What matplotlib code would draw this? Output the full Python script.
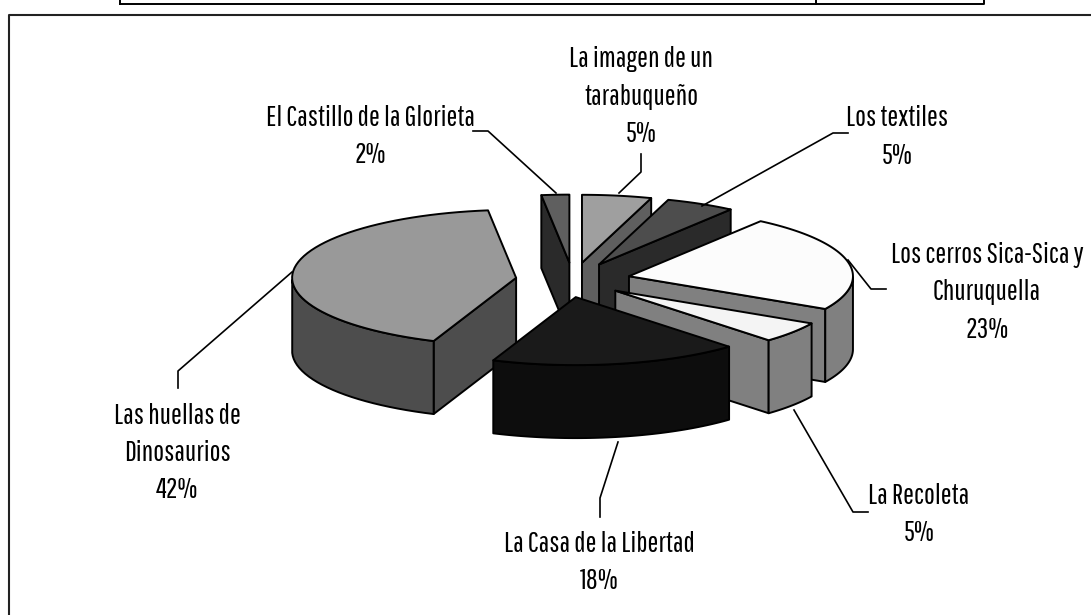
#!/usr/bin/env python3
# -*- coding: utf-8 -*-
import numpy as np
import matplotlib
matplotlib.use('Agg')
import matplotlib.pyplot as plt
from matplotlib.patches import Polygon

plt.rcParams['font.family'] = ['Pathway Gothic One', 'Archivo Narrow', 'Liberation Sans']

""" Data """

names = ['La imagen de un\ntarabuqueño', 'Los textiles', 'Los cerros Sica-Sica y\nChuruquella',
         'La Recoleta', 'La Casa de la Libertad', 'Las huellas de\nDinosaurios',
         'El Castillo de la Glorieta']
shares = [5, 5, 23, 5, 18, 42, 2]
topGreys = ['#9f9f9f', '#4d4d4d', '#fcfcfc', '#f4f4f4', '#1a1a1a', '#999999', '#5f5f5f']
sideGreys = ['#5f5f5f', '#2a2a2a', '#808080', '#808080', '#0d0d0d', '#4d4d4d', '#2a2a2a']

""" Layout, in pixels of the picture """

centreX, centreY = 573, 280
radX, radY = 224, 68
depth = 73
explode = 0.256
nudgeX = [0, 0, 0, -3, -8, 0, 0]
drawOrder = [6, 0, 1, 2, 5, 3, 4]
labelX = [641, 897, 987, 919, 599, 177, 370]
labelY = [57, 116, 252, 493, 541, 413, 115]
lineGap = 37.5
leaders = [[(641, 154), (641, 172), (619, 193)],
           [(848, 133), (833, 133), (702, 206)],
           [(886, 289), (871, 289), (848, 260)],
           [(868, 512), (853, 512), (794, 410)],
           [(600, 517), (600, 498), (618, 442)],
           [(178, 388), (178, 371), (292, 272)],
           [(473, 131), (488, 131), (556, 193)]]
edgeWidth = 1.4
fontSize = 20.8


def rim(a0, a1, x0, y0, num=60):
    th = np.radians(np.linspace(a0, a1, num))
    return np.column_stack([x0 + radX*np.cos(th), y0 - radY*np.sin(th)])


def wall(ax, pts, colour):
    lower = pts[::-1] + [0, depth]
    ax.add_patch(Polygon(np.vstack([pts, lower]), closed=True, facecolor=colour,
                         edgecolor='k', linewidth=edgeWidth, joinstyle='round'))


fig = plt.figure(figsize=(10.91, 6.15), dpi=100)
ax = fig.add_axes([0, 0, 1, 1])
ax.set_xlim(0, 1091)
ax.set_ylim(615, 0)
ax.axis('off')

# frame of the chart, and the bottom of the table above it
ax.plot([9, 9, 1091], [615, 15, 15], color='#222222', linewidth=1.5)
ax.plot([120, 984, 984], [3.5, 3.5, 0], color='k', linewidth=1.4)
ax.plot([120, 120], [3.5, 0], color='k', linewidth=1.4)
ax.plot([816, 816], [3.5, 0], color='k', linewidth=1.4)

ends = 90 - 3.6*np.cumsum(shares)
starts = np.concatenate([[90], ends[:-1]])

for ind in drawOrder:
    a0, a1 = starts[ind], ends[ind]
    mid = np.radians((a0 + a1)/2)
    x0 = centreX + explode*radX*np.cos(mid) + nudgeX[ind]
    y0 = centreY - explode*radY*np.sin(mid)
    apex = np.array([[x0, y0]])
    arc = rim(a0, a1, x0, y0)

    # walls that face the viewer: the radial edges first, then the rim
    if np.sin(np.radians(a0 + 90)) < -1e-6:
        wall(ax, np.vstack([apex, arc[:1]]), sideGreys[ind])
    if np.sin(np.radians(a1 - 90)) < -1e-6:
        wall(ax, np.vstack([apex, arc[-1:]]), sideGreys[ind])
    th = np.linspace(a0, a1, 60)
    front = np.sin(np.radians(th)) <= 0
    if front.any():
        wall(ax, arc[front], sideGreys[ind])

    ax.add_patch(Polygon(np.vstack([apex, arc]), closed=True, facecolor=topGreys[ind],
                         edgecolor='k', linewidth=edgeWidth, joinstyle='round'))

for ind in range(len(names)):
    pts = np.array(leaders[ind])
    ax.plot(pts[:, 0], pts[:, 1], color='k', linewidth=1.2)
    lines = names[ind].split('\n') + [str(shares[ind]) + '%']
    for num, line in enumerate(lines):
        ax.text(labelX[ind], labelY[ind] + num*lineGap, line, ha='center', va='center_baseline',
                fontsize=fontSize, color='k')

fig.savefig('out.png', dpi=100)
